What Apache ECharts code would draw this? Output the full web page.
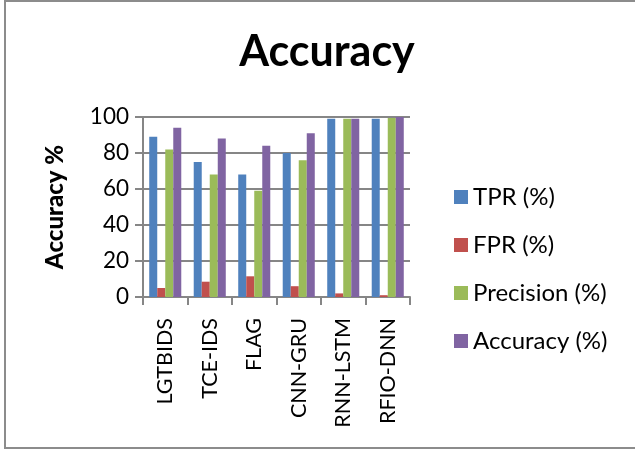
<!DOCTYPE html>
<html><head><meta charset="utf-8">
<script src="https://cdn.jsdelivr.net/npm/echarts@6/dist/echarts.min.js"></script>
<style>html,body{margin:0;padding:0;background:#fff}#c{width:635px;height:450px}</style>
</head><body><div id="c"></div>
<script>
const categories = ['LGTBIDS','TCE-IDS','FLAG','CNN-GRU','RNN-LSTM','RFIO-DNN'];
const tpr = [89, 75, 68, 80, 99, 99];
const fpr = [5, 8.5, 11.5, 6, 2, 1];
const precision = [82, 68, 59, 76, 99, 99.5];
const accuracy = [94, 88, 84, 91, 99, 100];
const seriesNames = ['TPR (%)','FPR (%)','Precision (%)','Accuracy (%)'];
const colors = ['#4F81BD','#C0504D','#9BBB59','#8064A2'];
const yTicks = {min:0, max:100, interval:20};

const font = 'Lato, "Open Sans", sans-serif';
const chart = echarts.init(document.getElementById('c'), null, {renderer:'canvas'});
const dataSets = [tpr, fpr, precision, accuracy];
chart.setOption({
  animation:false,
  backgroundColor:'#fff',
  title:{text:'Accuracy', left:322, textAlign:'center', top:26,
    textStyle:{fontFamily:font, fontWeight:'bold', fontSize:43, color:'#000'}},
  grid:{left:143, right:225, top:117, bottom:153, containLabel:false},
  legend:{orient:'vertical', left:449, top:179, itemWidth:14, itemHeight:14, itemGap:22,
    icon:'rect', data:seriesNames, itemStyle:{borderWidth:0},
    textStyle:{fontFamily:font, fontSize:24, color:'#000', lineHeight:26, padding:[0,0,0,0]}},
  xAxis:{type:'category', data:categories,
    axisLine:{lineStyle:{color:'#868686', width:2}},
    axisTick:{show:true, length:8, lineStyle:{color:'#868686', width:2}},
    axisLabel:{rotate:90, margin:21, fontFamily:font, fontSize:21.5, color:'#000'}},
  yAxis:{type:'value', min:yTicks.min, max:yTicks.max, interval:yTicks.interval,
    name:'Accuracy %', nameLocation:'middle', nameRotate:90, nameGap:76,
    nameTextStyle:{fontFamily:font, fontWeight:900, fontSize:24, color:'#000'},
    axisLine:{show:true, lineStyle:{color:'#868686', width:2}},
    axisTick:{show:true, length:8, lineStyle:{color:'#868686', width:2}},
    axisLabel:{margin:14, fontFamily:font, fontSize:22.5, color:'#000'},
    splitLine:{lineStyle:{color:'#868686', width:2}}},
  series: dataSets.map((d,i)=>({name:seriesNames[i], type:'bar', data:d,
    barGap:'0%', barCategoryGap:'28%', itemStyle:{color:colors[i]}})),
  graphic:[{type:'polyline', shape:{points:[[635,1],[5,1],[5,448],[635,448]]},
    style:{stroke:'#8c8c8c', lineWidth:2, fill:null}, silent:true}]
});
</script></body></html>
